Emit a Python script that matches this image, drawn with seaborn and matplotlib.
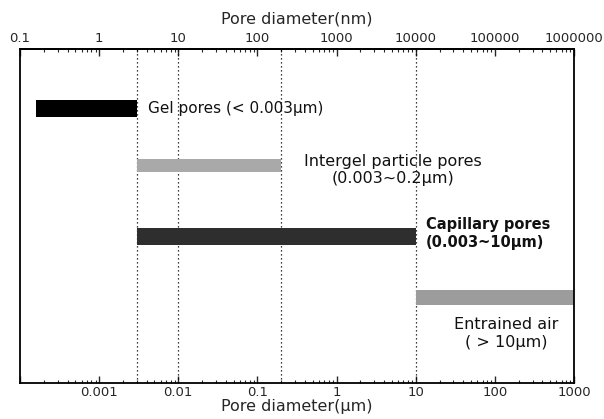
import matplotlib
matplotlib.use("Agg")
import matplotlib.pyplot as plt
import numpy as np
import pandas as pd
import seaborn as sns
from matplotlib.ticker import FixedLocator, FixedFormatter, LogLocator, NullFormatter

# Pore classes and their size ranges (micrometres)
categories = ["Gel pores", "Intergel particle pores", "Capillary pores", "Entrained air"]
start_um = [0.00016, 0.003, 0.003, 10]
end_um = [0.003, 0.2, 10, 1000]
levels = [0.823, 0.652, 0.439, 0.257]
bar_heights = [0.051, 0.039, 0.051, 0.045]
bar_colors = ["#000000", "#a9a9a9", "#2e2e2e", "#9c9c9c"]

labels = [
    "Gel pores (< 0.003\u00b5m)",
    "Intergel particle pores\n(0.003~0.2\u00b5m)",
    "Capillary pores\n(0.003~10\u00b5m)",
    "Entrained air\n( > 10\u00b5m)",
]

# Class boundaries drawn as dotted guides
boundaries_um = [0.003, 0.01, 0.2, 10]

# Axis ticks
um_ticks = [0.0001, 0.001, 0.01, 0.1, 1, 10, 100, 1000]
um_tick_labels = ["", "0.001", "0.01", "0.1", "1", "10", "100", "1000"]
nm_ticks = [0.1, 1, 10, 100, 1000, 10000, 100000, 1000000]
nm_tick_labels = ["0.1", "1", "10", "100", "1000", "10000", "100000", "1000000"]

df = pd.DataFrame({"category": categories, "start": start_um, "end": end_um,
                   "level": levels, "height": bar_heights, "color": bar_colors})

sns.set_theme(style="white")
plt.rcParams["font.family"] = ["DejaVu Sans"]

fig = plt.figure(figsize=(6.04, 4.19), dpi=100)
ax = fig.add_axes([0.0331, 0.0859, 0.9172, 0.7972])

ax.set_xscale("log")
ax.set_xlim(0.0001, 1000)
ax.set_ylim(0, 1)

for b in boundaries_um:
    ax.axvline(b, color="black", linestyle=(0, (1, 2.2)), linewidth=0.9, zorder=1)

ax.barh(df["level"], df["end"] - df["start"], left=df["start"],
        height=df["height"], color=df["color"], edgecolor="none", zorder=2)

# Annotations
ax.text(0.0042, 0.823, labels[0], ha="left", va="center", fontsize=11, color="#111111")
ax.text(5.2, 0.637, labels[1], ha="center", va="center", fontsize=11.5,
        multialignment="center", linespacing=1.2, color="#111111")
ax.text(13.4, 0.447, labels[2], ha="left", va="center", fontsize=10.5,
        fontweight="bold", linespacing=1.25, color="#111111")
ax.text(140, 0.148, labels[3], ha="center", va="center", fontsize=11.5,
        multialignment="center", linespacing=1.2, color="#111111")

# Bottom axis (micrometres)
ax.xaxis.set_major_locator(FixedLocator(um_ticks))
ax.xaxis.set_major_formatter(FixedFormatter(um_tick_labels))
ax.xaxis.set_minor_locator(LogLocator(base=10, subs=np.arange(2, 10), numticks=20))
ax.xaxis.set_minor_formatter(NullFormatter())
ax.tick_params(axis="x", which="major", direction="in", length=5, width=1,
               labelsize=9.5, pad=2, bottom=True, top=False)
ax.tick_params(axis="x", which="minor", direction="in", length=2.5, width=0.8,
               bottom=True, top=False)
ax.set_yticks([])
ax.set_xlabel("Pore diameter(\u00b5m)", fontsize=11.5, labelpad=0)

# Top axis (nanometres)
secax = ax.secondary_xaxis("top", functions=(lambda x: x * 1000, lambda x: x / 1000))
secax.xaxis.set_major_locator(FixedLocator(nm_ticks))
secax.xaxis.set_major_formatter(FixedFormatter(nm_tick_labels))
secax.xaxis.set_minor_locator(LogLocator(base=10, subs=np.arange(2, 10), numticks=20))
secax.xaxis.set_minor_formatter(NullFormatter())
secax.tick_params(axis="x", which="major", direction="in", length=5, width=1,
                  labelsize=9.5, pad=3)
secax.tick_params(axis="x", which="minor", direction="in", length=2.5, width=0.8)
secax.set_xlabel("Pore diameter(nm)", fontsize=11.5, labelpad=6)
secax.spines["top"].set_linewidth(1.3)
secax.spines["top"].set_color("black")

for side in ["left", "right", "bottom", "top"]:
    ax.spines[side].set_visible(True)
    ax.spines[side].set_color("black")
    ax.spines[side].set_linewidth(1.3)

fig.savefig("out.png", dpi=100, facecolor="white")
